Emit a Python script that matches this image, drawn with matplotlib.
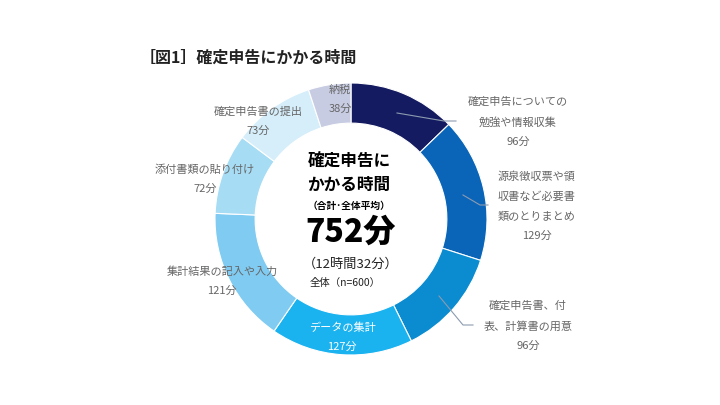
import numpy as np
import matplotlib.pyplot as plt
import matplotlib as mt

mt.rcParams['font.family'] = ['Noto Sans CJK JP', 'DejaVu Sans']

#%% data
labels = ['確定申告についての\n勉強や情報収集', '源泉徴収票や領\n収書など必要書\n類のとりまとめ',
          '確定申告書、付\n表、計算書の用意', 'データの集計', '集計結果の記入や入力',
          '添付書類の貼り付け', '確定申告書の提出', '納税']
minutes = [96, 129, 96, 127, 121, 72, 73, 38]
colors = ['#151b60', '#0a65b9', '#0b8bd0', '#1bb2f0', '#80cbf1', '#a7dcf5', '#d5eefa', '#c8cce3']
total = sum(minutes)

# label anchor (pixel coords of figure, y from top), text colour
label_pos = [(518, 122), (537, 206), (528, 326), (342, 337), (222, 281), (205, 179), (258, 121), (340, 99)]
label_col = ['#666666'] * 3 + ['white'] + ['#666666'] * 4

# leader lines: (start in wedge, bend, end)
leaders = {0: [(397, 113), (444, 121), (456, 121)],
           1: [(463, 195), (480, 205), (488, 205)],
           2: [(439, 296), (463, 325), (473, 325)]}

#%% figure
W, H = 720, 405
fig = plt.figure(figsize=(W / 100, H / 100), dpi=100)
ax = fig.add_axes([0, 0, 1, 1])

cx, cy, R = 351, H - 219, 136
ax.pie(minutes, colors=colors, startangle=90, counterclock=False, center=(cx, cy), radius=R,
       wedgeprops=dict(width=R * 0.295, edgecolor='white', linewidth=0.8), frame=True)
ax.set_xlim(0, W)
ax.set_ylim(0, H)
ax.set_aspect('equal')
ax.axis('off')

for i, (lab, m) in enumerate(zip(labels, minutes)):
    x, y = label_pos[i]
    ax.text(x, H - y, lab + '\n' + str(m) + '分', ha='center', va='center', fontsize=8,
            color=label_col[i], linespacing=2.15)

for i, pts in leaders.items():
    xs = [p[0] for p in pts]
    ys = [H - p[1] for p in pts]
    ax.plot(xs, ys, color='#8c9bb0', lw=0.8)

fig.text(140 / W, 1 - 58 / H, '［図1］確定申告にかかる時間', fontsize=11.5, fontweight='bold',
         ha='left', va='center', color='#222222')

# centre text
ax.text(349, H - 161, '確定申告に', fontsize=12, fontweight='bold', ha='center', va='center')
ax.text(349, H - 185, 'かかる時間', fontsize=12, fontweight='bold', ha='center', va='center')
ax.text(349, H - 206, '（合計･全体平均）', fontsize=7, fontweight='bold', ha='center', va='center')
ax.text(351, H - 232, str(total) + '分', fontsize=23, fontweight='black', ha='center', va='center')
ax.text(351, H - 264, '（12時間32分）', fontsize=9.5, ha='center', va='center', color='#222222')
ax.text(345, H - 283, '全体（n=600）', fontsize=7.5, ha='center', va='center', color='#222222')

plt.savefig('out.png', dpi=100)
